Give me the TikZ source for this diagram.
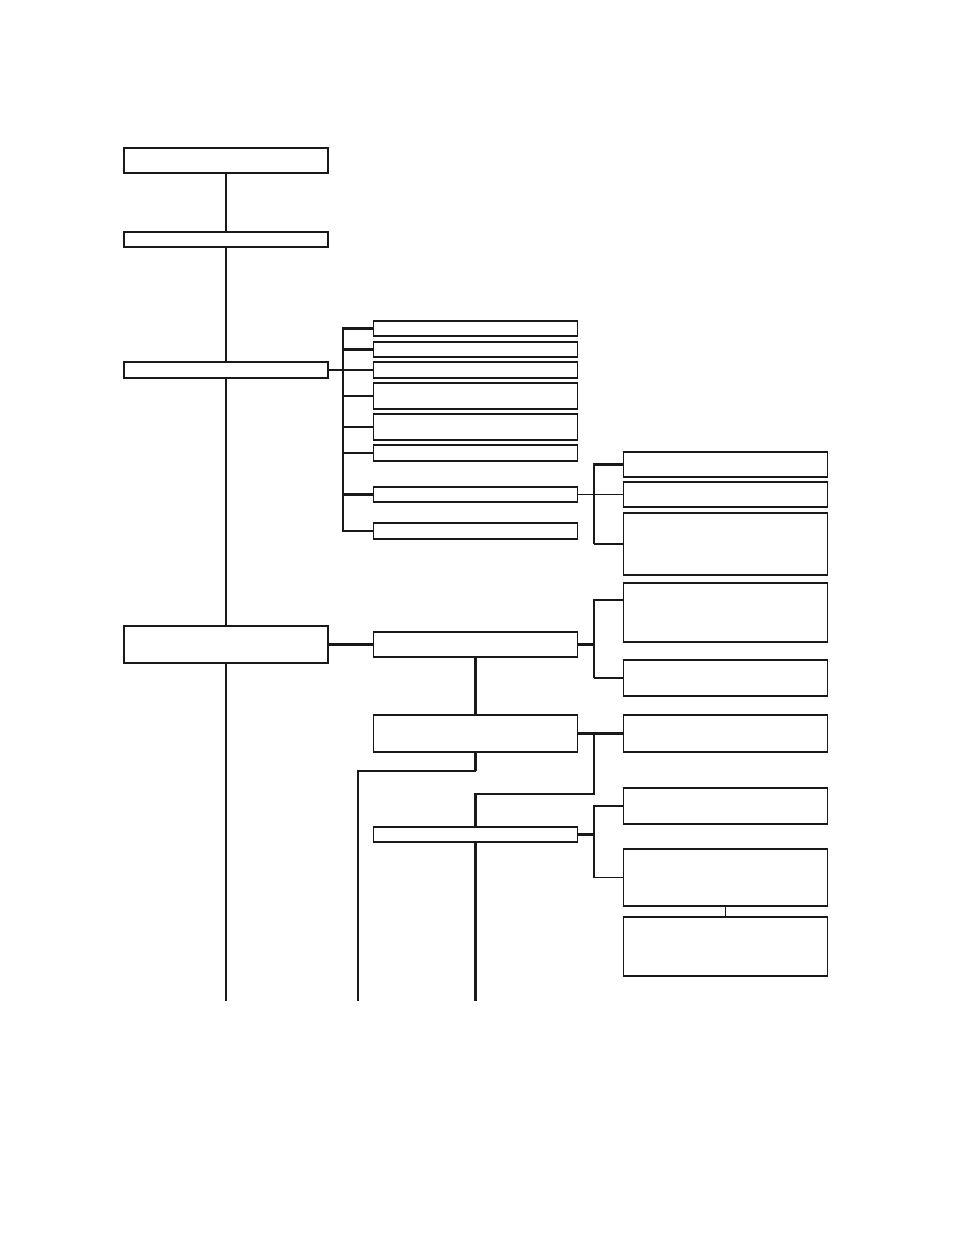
\documentclass[tikz,border=0pt]{standalone}
\begin{document}
\begin{tikzpicture}[x=1pt,y=-1pt,
  box/.style={draw=black!90,line width=1.7pt,rectangle,inner sep=0pt,minimum width=204pt},
  thk/.style={draw=black!90,line width=2.4pt},
  thn/.style={draw=black!90,line width=1.3pt}]
\useasboundingbox[fill=white] (0,0) rectangle (954,1235);
% column 1
\node[box,minimum height=25pt] (A) at (226,160.5) {};
\node[box,minimum height=15pt] (B) at (226,239.5) {};
\node[box,minimum height=16pt] (C) at (226,370) {};
\node[box,minimum height=37pt] (D) at (226,644.5) {};
% column 2
\node[box,minimum height=15pt] (r1) at (475.5,328.5) {};
\node[box,minimum height=15pt] (r2) at (475.5,349.5) {};
\node[box,minimum height=16pt] (r3) at (475.5,370) {};
\node[box,minimum height=26pt] (r4) at (475.5,396) {};
\node[box,minimum height=26pt] (r5) at (475.5,427) {};
\node[box,minimum height=16pt] (r6) at (475.5,453) {};
\node[box,minimum height=15pt] (r7) at (475.5,494.5) {};
\node[box,minimum height=16pt] (r8) at (475.5,531) {};
\node[box,minimum height=25pt] (M1) at (475.5,644.5) {};
\node[box,minimum height=37pt] (M2) at (475.5,733.5) {};
\node[box,minimum height=15pt] (M3) at (475.5,834.5) {};
% column 3
\node[box,minimum height=25pt] (s1) at (725.5,464.5) {};
\node[box,minimum height=25pt] (s2) at (725.5,494.5) {};
\node[box,minimum height=62pt] (s3) at (725.5,544) {};
\node[box,minimum height=59pt] (E) at (725.5,612.5) {};
\node[box,minimum height=36pt] (F) at (725.5,678) {};
\node[box,minimum height=37pt] (G) at (725.5,733.5) {};
\node[box,minimum height=36pt] (H) at (725.5,806) {};
\node[box,minimum height=57pt] (I) at (725.5,877.5) {};
\node[box,minimum height=59pt] (J) at (725.5,946.5) {};
% helper coordinates
\coordinate (bx) at (343,0);
\coordinate (cx) at (594,0);
\coordinate (et) at (623,600);
\coordinate (k1) at (594,794);
\coordinate (k2) at (475.5,771);
\coordinate (end1) at (226,1001);
\coordinate (end2) at (358,1001);
\coordinate (end3) at (475.5,1001);
% trunk
\draw[thk] (A.south) -- (B.north);
\draw[thk] (B.south) -- (C.north);
\draw[thk] (C.south) -- (D.north);
\draw[thk] (D.south) -- (end1);
% bracket column 2
\draw[thk] (C.east) -- (r3.west);
\draw[thk] (r1.west) -- (r1.west -| bx) -- (r8.west -| bx) -- (r8.west);
\draw[thk] (r2.west) -- (r2.west -| bx);
\draw[thn] (r4.west) -- (r4.west -| bx);
\draw[thn] (r5.west) -- (r5.west -| bx);
\draw[thn] (r6.west) -- (r6.west -| bx);
\draw[thk] (r7.west) -- (r7.west -| bx);
% bracket column 3 (upper)
\draw[thn] (r7.east) -- (s2.west);
\draw[thk] (s1.west) -- (s1.west -| cx) -- (s3.west -| cx);
\draw[thn] (s3.west -| cx) -- (s3.west);
% lower part
\draw[thk] (D.east) -- (M1.west);
\draw[thk] (M1.east) -- (M1.east -| cx);
\draw[thk] (et) -- (et -| cx) -- (F.west -| cx);
\draw[thn] (F.west -| cx) -- (F.west);
\draw[thk] (M1.south) -- (M2.north);
\draw[thk] (M2.east) -- (G.west);
\draw[thk] (M2.east -| cx) -- (k1) -- (k1 -| M3.north) -- (M3.north);
\draw[thk] (M2.south) -- (k2);
\draw[thn] (k2) -| (end2);
\draw[thk] (M3.south) -- (end3);
\draw[thk] (M3.east) -- (M3.east -| cx);
\draw[thk] (H.west) -- (H.west -| cx) -- (I.west -| cx);
\draw[thn] (I.west -| cx) -- (I.west);
\draw[thn] (I.south) -- (J.north);
\end{tikzpicture}
\end{document}
